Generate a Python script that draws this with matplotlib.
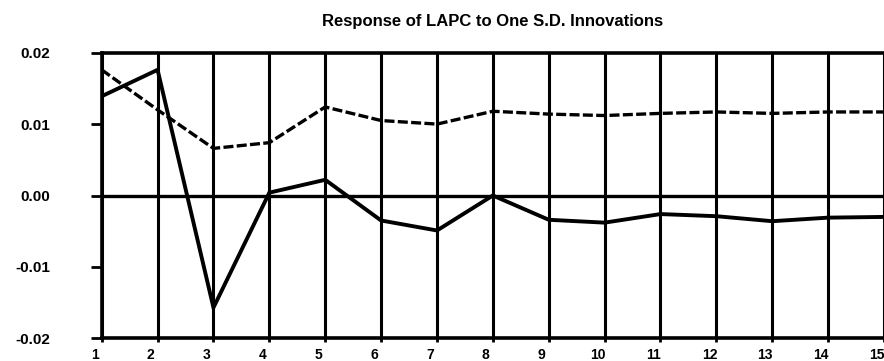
import matplotlib
matplotlib.use("Agg")
import matplotlib.pyplot as plt
from matplotlib.ticker import FixedLocator
from matplotlib.transforms import ScaledTranslation

plt.rcParams['font.family'] = ['Liberation Sans', 'DejaVu Sans']
plt.rcParams['axes.unicode_minus'] = False

# Impulse-response horizons and responses
periods = list(range(1, 16))
response_solid = [0.0139, 0.0176, -0.0157, 0.0004, 0.0022, -0.0035, -0.0049, 0.0000,
                  -0.0034, -0.0038, -0.0026, -0.0029, -0.0036, -0.0031, -0.0030]
response_dashed = [0.0176, 0.0120, 0.0066, 0.0074, 0.0124, 0.0105, 0.0100, 0.0118,
                   0.0114, 0.0112, 0.0115, 0.0117, 0.0115, 0.0117, 0.0117]
y_ticks = [-0.02, -0.01, 0.00, 0.01, 0.02]
y_tick_labels = ['-0.02', '-0.01', '0.00', '0.01', '0.02']
title = 'Response of LAPC to One S.D. Innovations'

W, H = 884, 361
fig = plt.figure(figsize=(W / 100, H / 100), dpi=100)
left, right, top, bottom = 101.7, 884, 52.7, 338.3
ax = fig.add_axes([left / W, 1 - bottom / H, (right - left) / W, (bottom - top) / H])

# horizontal scale: one period per ~56.4 px, clipped at the right edge
x_right = 1 + (right - left) / 56.4
ax.set_xlim(1, x_right)
ax.set_ylim(-0.02, 0.02)

# vertical rules at every period
for p in periods:
    ax.axvline(p, color='black', lw=2.2, zorder=1)
ax.axhline(0.0, color='black', lw=2.4, zorder=1)

ax.plot(periods, response_solid, color='black', lw=2.8, solid_joinstyle='miter', zorder=3)
ax.plot(periods, response_dashed, color='black', lw=2.4, dashes=(3.0, 1.0), zorder=3)

for side in ['top', 'bottom', 'left']:
    ax.spines[side].set_linewidth(2.6)
ax.spines['right'].set_visible(False)

ax.yaxis.set_major_locator(FixedLocator(y_ticks))
ax.set_yticklabels(y_tick_labels)
ax.set_xticks(periods)
ax.set_xticklabels([str(p) for p in periods])
ax.tick_params(axis='y', direction='out', length=8, width=2, pad=29,
               labelsize=11)
ax.tick_params(axis='x', direction='out', length=3, width=2, pad=4,
               labelsize=10)
shift = ScaledTranslation(-7 / 100, 0, fig.dpi_scale_trans)
for lab in ax.get_xticklabels():
    lab.set_fontweight('bold')
    lab.set_transform(lab.get_transform() + shift)
for lab in ax.get_yticklabels():
    lab.set_fontweight('bold')

ax.set_title(title, fontsize=12, fontweight='bold', pad=19)

fig.savefig('out.png', dpi=100)
